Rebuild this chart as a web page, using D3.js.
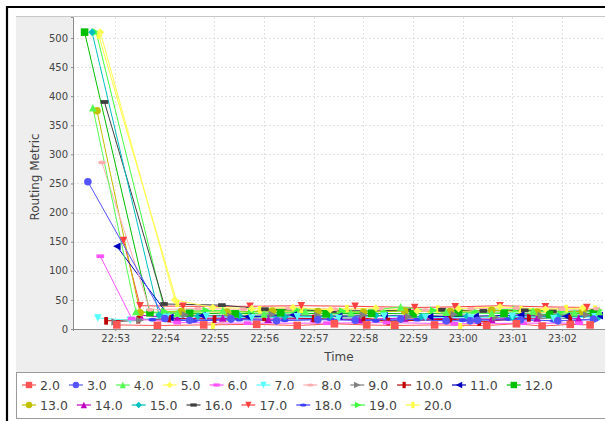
<!DOCTYPE html>
<html>
<head>
<meta charset="utf-8">
<script src="https://cdnjs.cloudflare.com/ajax/libs/d3/7.8.5/d3.min.js"></script>
<style>
body { margin: 0; background: white; }
svg { display: block; font-family: "DejaVu Sans", sans-serif; }
</style>
</head>
<body>
<svg id="chart" width="605" height="421"></svg>
<script>
// series names as shown in the legend
var seriesNames = ["2.0", "3.0", "4.0", "5.0", "6.0", "7.0", "8.0", "9.0", "10.0", "11.0",
	"12.0", "13.0", "14.0", "15.0", "16.0", "17.0", "18.0", "19.0", "20.0"];

// [time, routing metric]
var series2 = [["22:53:02", 7], ["22:53:51", 6], ["22:54:47", 7], ["22:55:51", 8], ["22:56:40", 6], ["22:57:25", 9], ["22:58:04", 7],
	["22:58:38", 6], ["22:59:26", 7], ["23:00:29", 6], ["23:01:05", 9], ["23:01:36", 5], ["23:02:10", 8], ["23:02:34", 7]];
var series3 = [["22:52:27", 253], ["22:54:00", 18], ["22:54:30", 15], ["22:55:20", 17], ["22:56:15", 14], ["22:57:05", 16], ["22:57:50", 15],
	["22:58:45", 17], ["22:59:40", 14], ["23:00:09", 14], ["23:00:18", 15], ["23:01:10", 16], ["23:01:55", 14], ["23:02:38", 17]];
var series4 = [["22:52:33", 380], ["22:53:25", 30], ["22:54:15", 27], ["22:55:10", 32], ["22:56:00", 26], ["22:56:50", 30], ["22:57:45", 28],
	["22:58:45", 38], ["22:59:40", 29], ["23:00:35", 27], ["23:01:25", 31], ["23:02:15", 28], ["23:02:45", 30]];
var series5 = [["22:52:42", 510], ["22:54:12", 50], ["22:54:58", 37], ["22:55:45", 35], ["22:56:35", 37], ["22:57:20", 33], ["22:58:15", 36],
	["22:59:05", 31], ["22:59:55", 35], ["23:00:45", 38], ["23:01:40", 34], ["23:02:25", 36]];
var series6 = [["22:52:42", 125], ["22:53:20", 18], ["22:54:15", 11], ["22:55:40", 10], ["22:57:16", 10], ["22:58:28", 11], ["22:59:50", 9],
	["23:01:13", 10], ["23:02:21", 10]];
var series7 = [["22:52:39", 19], ["22:53:18", 15], ["22:54:02", 20], ["22:54:50", 22], ["22:55:45", 19], ["22:56:40", 21], ["22:57:30", 18],
	["22:58:25", 22], ["22:59:15", 20], ["23:00:10", 19], ["23:01:00", 22], ["23:01:50", 18], ["23:02:40", 21]];
var series8 = [["22:52:44", 286], ["22:53:42", 33], ["22:54:40", 35], ["22:55:35", 34], ["22:56:30", 36], ["22:57:25", 34], ["22:58:20", 35],
	["22:59:15", 33], ["23:00:10", 35], ["23:01:05", 36], ["23:02:00", 34], ["23:02:42", 35]];
var series9 = [["22:53:00", 12], ["22:53:30", 15], ["22:54:25", 24], ["22:55:20", 22], ["22:56:10", 25], ["22:57:05", 23], ["22:58:00", 24],
	["22:58:55", 21], ["22:59:50", 25], ["23:00:40", 20], ["23:01:35", 23], ["23:02:30", 24]];
var series10 = [["22:52:49", 14], ["22:53:28", 16], ["22:54:05", 18], ["22:55:00", 17], ["22:56:00", 20], ["22:57:00", 18], ["22:58:00", 19],
	["22:58:30", 13], ["22:59:45", 17], ["23:00:20", 12], ["23:01:20", 19], ["23:02:10", 18]];
var series11 = [["22:53:02", 142], ["22:54:06", 20], ["22:54:45", 23], ["22:55:40", 21], ["22:56:35", 24], ["22:57:30", 22], ["22:58:25", 23],
	["22:59:20", 21], ["23:00:15", 22], ["23:01:10", 24], ["23:02:05", 22], ["23:02:45", 23]];
var series12 = [["22:52:23", 510], ["22:53:42", 28], ["22:54:30", 27], ["22:55:25", 26], ["22:56:20", 28], ["22:57:15", 26], ["22:58:10", 27],
	["22:59:00", 26], ["22:59:55", 28], ["23:00:50", 27], ["23:01:45", 25], ["23:02:38", 27]];
var series13 = [["22:52:38", 375], ["22:53:30", 28], ["22:54:20", 30], ["22:55:15", 29], ["22:56:10", 31], ["22:57:05", 30], ["22:58:00", 29],
	["22:58:50", 31], ["22:59:45", 30], ["23:00:35", 32], ["23:01:30", 29], ["23:02:25", 30]];
var series14 = [["22:53:30", 24], ["22:54:15", 18], ["22:55:10", 19], ["22:56:05", 17], ["22:57:00", 18], ["22:57:55", 16], ["22:58:50", 19],
	["22:59:40", 18], ["23:00:35", 17], ["23:01:30", 19], ["23:02:20", 18]];
var series15 = [["22:52:32", 510], ["22:53:53", 24], ["22:54:40", 22], ["22:55:30", 23], ["22:56:25", 21], ["22:57:20", 22], ["22:58:15", 23],
	["22:59:10", 21], ["23:00:05", 22], ["23:01:00", 20], ["23:01:55", 22], ["23:02:45", 21]];
var series16 = [["22:52:47", 390], ["22:53:59", 43], ["22:55:09", 41], ["22:56:01", 34], ["22:57:23", 31], ["22:58:53", 32], ["22:59:35", 33],
	["23:00:25", 31], ["23:01:15", 32], ["23:01:49", 30], ["23:02:40", 31]];
var series17 = [["22:53:10", 152], ["22:53:30", 40], ["22:54:22", 39], ["22:55:43", 39], ["22:56:45", 40], ["22:57:50", 39], ["22:59:02", 37],
	["22:59:51", 38], ["23:00:45", 40], ["23:01:40", 38], ["23:02:30", 37]];
var series18 = [["22:53:45", 16], ["22:54:35", 14], ["22:55:30", 16], ["22:56:25", 15], ["22:57:20", 17], ["22:58:15", 14], ["22:59:05", 16],
	["23:00:00", 15], ["23:00:55", 17], ["23:01:50", 14], ["23:02:40", 16]];
var series19 = [["22:52:37", 510], ["22:54:00", 30], ["22:54:50", 32], ["22:55:45", 30], ["22:56:40", 33], ["22:57:35", 31], ["22:58:25", 30],
	["22:59:25", 32], ["23:00:15", 31], ["23:01:05", 34], ["23:02:00", 30], ["23:02:45", 32]];
var series20 = [["22:52:40", 505], ["22:54:15", 44], ["22:54:58", 5], ["22:55:55", 33], ["22:56:45", 34], ["22:57:40", 35], ["22:58:35", 6],
	["22:59:30", 34], ["22:59:57", 4], ["23:01:10", 33], ["23:02:05", 35], ["23:02:40", 34]];

var seriesData = [series2, series3, series4, series5, series6, series7, series8, series9, series10, series11,
	series12, series13, series14, series15, series16, series17, series18, series19, series20];

var yTicks = [0, 50, 100, 150, 200, 250, 300, 350, 400, 450, 500];
var xTicks = ["22:53", "22:54", "22:55", "22:56", "22:57", "22:58", "22:59", "23:00", "23:01", "23:02"];
var xRange = ["22:52:09", "23:02:52"];
var yRange = [0, 536];

// jfreechart default paints and shapes
var seriesColors = ["#ff5555", "#5555ff", "#55ff55", "#ffff55", "#ff55ff", "#55ffff", "#ffafaf", "#808080", "#c00000", "#0000c0",
	"#00c000", "#c0c000", "#c000c0", "#00c0c0", "#404040", "#ff4040", "#4040ff", "#40ff40", "#ffff40"];
var shapeTypes = ["square", "circle", "up", "diamond", "hrect", "down", "ellipse", "right", "vrect", "left"];

var RoutingChart = {
	plot: { left: 73, right: 605, top: 17, bottom: 329 },
	markerHalf: 3.8,

	svg: null,
	x: null,
	y: null,

	init: function() {
		var self = this;
		var parseSec = d3.timeParse("%H:%M:%S");

		self.svg = d3.select("#chart");
		self.x = d3.scaleTime()
			.domain([parseSec(xRange[0]), parseSec(xRange[1])])
			.range([self.plot.left, self.plot.right]);
		self.y = d3.scaleLinear()
			.domain(yRange)
			.range([self.plot.bottom, self.plot.top]);

		self.drawFrame();
		self.drawAxes();
		self.drawSeries();
		self.drawLegend();
	},
	drawFrame: function() {
		var self = this;

		// outer black border (only top and left are inside the picture)
		self.svg.append("rect")
			.attr("x", 0).attr("y", 0)
			.attr("width", 605).attr("height", 421)
			.style("fill", "white");
		self.svg.append("path")
			.attr("d", "M7,421 V7 H605")
			.style("fill", "none")
			.style("stroke", "black")
			.style("stroke-width", 2.2);

		// chart panel
		self.svg.append("rect")
			.attr("x", 16).attr("y", 16)
			.attr("width", 590).attr("height", 402)
			.style("fill", "#eeeeee");
		self.svg.append("line")
			.attr("x1", 16).attr("x2", 605)
			.attr("y1", 16.5).attr("y2", 16.5)
			.style("stroke", "#c8c8c8");

		// plot background
		self.svg.append("rect")
			.attr("x", self.plot.left).attr("y", self.plot.top)
			.attr("width", self.plot.right - self.plot.left)
			.attr("height", self.plot.bottom - self.plot.top)
			.style("fill", "white");

		self.svg.append("clipPath")
			.attr("id", "plot-clip")
			.append("rect")
			.attr("x", self.plot.left).attr("y", self.plot.top)
			.attr("width", self.plot.right - self.plot.left)
			.attr("height", self.plot.bottom - self.plot.top);
	},
	drawAxes: function() {
		var self = this;
		var parseMin = d3.timeParse("%H:%M");
		var tickDates = xTicks.map(function(d) { return parseMin(d); });

		// gridlines
		self.svg.append("g")
			.selectAll("line")
			.data(yTicks.slice(1))
			.enter()
			.append("line")
			.attr("x1", self.plot.left).attr("x2", self.plot.right)
			.attr("y1", function(d) { return Math.round(self.y(d)) + 0.5; })
			.attr("y2", function(d) { return Math.round(self.y(d)) + 0.5; })
			.style("stroke", "#e2e2e2")
			.style("stroke-dasharray", "2,2");
		self.svg.append("g")
			.selectAll("line")
			.data(tickDates)
			.enter()
			.append("line")
			.attr("x1", function(d) { return Math.round(self.x(d)) + 0.5; })
			.attr("x2", function(d) { return Math.round(self.x(d)) + 0.5; })
			.attr("y1", self.plot.top).attr("y2", self.plot.bottom)
			.style("stroke", "#e2e2e2")
			.style("stroke-dasharray", "2,2");

		// y axis
		var yAxis = d3.axisLeft(self.y)
			.tickValues(yTicks)
			.tickSize(2)
			.tickPadding(3);
		var yG = self.svg.append("g")
			.attr("transform", "translate(" + self.plot.left + ",0)")
			.call(yAxis);

		// x axis
		var xAxis = d3.axisBottom(self.x)
			.tickValues(tickDates)
			.tickFormat(d3.timeFormat("%H:%M"))
			.tickSize(2)
			.tickPadding(4);
		var xG = self.svg.append("g")
			.attr("transform", "translate(0," + self.plot.bottom + ")")
			.call(xAxis);

		[yG, xG].forEach(function(g) {
			g.select(".domain").style("stroke", "#8c8c8c").attr("stroke-width", 1);
			g.selectAll(".tick line").style("stroke", "#8c8c8c");
			g.selectAll(".tick text")
				.style("font-family", "DejaVu Sans")
				.style("font-size", "10px")
				.style("fill", "#444");
		});

		// axis labels
		self.svg.append("text")
			.attr("x", (self.plot.left + self.plot.right) / 2)
			.attr("y", 361)
			.style("text-anchor", "middle")
			.style("font-size", "12px")
			.style("fill", "#444")
			.text("Time");
		self.svg.append("text")
			.attr("transform", "translate(39," + ((self.plot.top + self.plot.bottom) / 2 + 4) + ") rotate(-90)")
			.style("text-anchor", "middle")
			.style("font-size", "12px")
			.style("fill", "#444")
			.text("Routing Metric");
	},
	shapePath: function(type, h) {
		var q = h / 2;
		switch (type) {
			case "square": return "M" + -h + "," + -h + "h" + 2 * h + "v" + 2 * h + "h" + -2 * h + "Z";
			case "circle": return "M" + -h + ",0a" + h + "," + h + " 0 1,0 " + 2 * h + ",0a" + h + "," + h + " 0 1,0 " + -2 * h + ",0Z";
			case "up": return "M0," + -h + "L" + h + "," + h + "L" + -h + "," + h + "Z";
			case "diamond": return "M0," + -h + "L" + h + ",0L0," + h + "L" + -h + ",0Z";
			case "hrect": return "M" + -h + "," + -q + "h" + 2 * h + "v" + h + "h" + -2 * h + "Z";
			case "down": return "M0," + h + "L" + h + "," + -h + "L" + -h + "," + -h + "Z";
			case "ellipse": return "M" + -h + ",0a" + h + "," + q + " 0 1,0 " + 2 * h + ",0a" + h + "," + q + " 0 1,0 " + -2 * h + ",0Z";
			case "right": return "M" + -h + "," + -h + "L" + h + ",0L" + -h + "," + h + "Z";
			case "vrect": return "M" + -q + "," + -h + "h" + h + "v" + 2 * h + "h" + -h + "Z";
			case "left": return "M" + h + "," + -h + "L" + -h + ",0L" + h + "," + h + "Z";
		}
	},
	drawSeries: function() {
		var self = this;
		var parseSec = d3.timeParse("%H:%M:%S");
		var layer = self.svg.append("g").attr("clip-path", "url(#plot-clip)");

		// reverse rendering order, so the first series ends on top
		var order = d3.range(seriesData.length).reverse();

		var line = d3.line()
			.x(function(d) { return self.x(parseSec(d[0])); })
			.y(function(d) { return self.y(d[1]); });

		// pass 0: lines
		order.forEach(function(i) {
			layer.append("path")
				.attr("d", line(seriesData[i]))
				.style("fill", "none")
				.style("stroke", seriesColors[i])
				.style("stroke-width", 1);
		});

		// pass 1: shapes
		order.forEach(function(i) {
			layer.append("g")
				.selectAll("path")
				.data(seriesData[i])
				.enter()
				.append("path")
				.attr("transform", function(d) {
					return "translate(" + self.x(parseSec(d[0])) + "," + self.y(d[1]) + ")";
				})
				.attr("d", self.shapePath(shapeTypes[i % 10], self.markerHalf))
				.style("fill", seriesColors[i]);
		});
	},
	drawLegend: function() {
		var self = this;
		var box = { x: 16, y: 372, width: 595, height: 46 };
		var rowY = [385, 405];

		self.svg.append("rect")
			.attr("x", box.x + 0.5).attr("y", box.y + 0.5)
			.attr("width", box.width).attr("height", box.height)
			.style("fill", "white")
			.style("stroke", "#9a9a9a");

		var cx = 22, row = 0;
		seriesNames.forEach(function(name, i) {
			var item = self.svg.append("g");
			var label = item.append("text")
				.attr("x", 18)
				.attr("y", 0)
				.attr("dy", "0.36em")
				.style("font-size", "12.5px")
				.style("fill", "#444")
				.text(name);
			var w = label.node().getComputedTextLength();

			if (cx + 18 + w > 600) {
				row++;
				cx = 22;
			}
			item.attr("transform", "translate(" + cx + "," + rowY[row] + ")");
			item.insert("line", "text")
				.attr("x1", 0).attr("x2", 14)
				.attr("y1", 0).attr("y2", 0)
				.style("stroke", seriesColors[i])
				.style("stroke-width", 1.2);
			item.insert("path", "text")
				.attr("transform", "translate(7,0)")
				.attr("d", self.shapePath(shapeTypes[i % 10], 3.2))
				.style("fill", seriesColors[i]);

			cx += 18 + w + 9;
		});
	}
};

RoutingChart.init();
</script>
</body>
</html>
